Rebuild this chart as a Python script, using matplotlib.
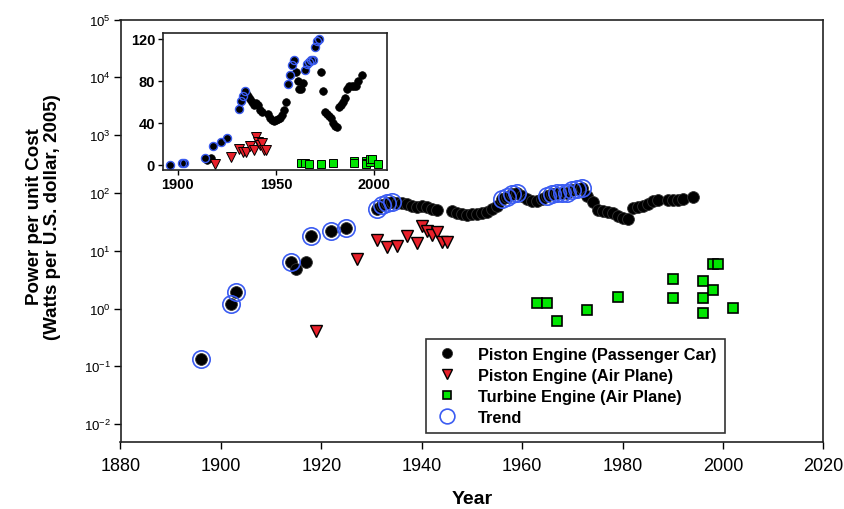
import matplotlib
matplotlib.use("Agg")
import matplotlib.pyplot as plt
from matplotlib.ticker import FixedLocator, NullLocator, LogFormatterMathtext

plt.rcParams['font.family'] = ['Liberation Sans', 'DejaVu Sans']
plt.rcParams['mathtext.fontset'] = 'custom'
plt.rcParams['mathtext.rm'] = 'Liberation Sans'
plt.rcParams['mathtext.it'] = 'Liberation Sans:italic'
plt.rcParams['mathtext.bf'] = 'Liberation Sans:bold'
plt.rcParams['axes.unicode_minus'] = False

# ---- data ----
car_years = [1896, 1902, 1903, 1914, 1915, 1917, 1918, 1922, 1925,
             1931, 1932, 1933, 1934, 1935, 1936, 1937, 1938, 1939, 1940, 1941, 1942, 1943,
             1946, 1947, 1948, 1949, 1950, 1951, 1952, 1953, 1954, 1955,
             1956, 1957, 1958, 1959, 1960, 1961, 1962, 1963, 1964,
             1965, 1966, 1967, 1968, 1969, 1970, 1971, 1972, 1973, 1974,
             1975, 1976, 1977, 1978, 1979, 1980, 1981,
             1982, 1983, 1984, 1985, 1986, 1987, 1989, 1990, 1991, 1992, 1994]
car_vals = [0.133, 1.22, 1.95, 6.3, 4.9, 6.3, 18, 21.7, 25,
            53, 61, 66, 70, 68, 66, 63, 60, 57, 59, 57, 52, 50,
            48, 45, 43, 42, 43, 44, 45, 47, 52, 60,
            77, 86, 95, 100, 88, 80, 72, 72, 78,
            90, 96, 98, 100, 100, 112, 118, 120, 88, 70,
            50, 48, 46, 45, 40, 37, 36,
            55, 57, 60, 64, 72, 75, 75, 75, 75, 80, 86]

trend_years = [1896, 1902, 1903, 1914, 1918, 1922, 1925,
               1931, 1932, 1933, 1934,
               1956, 1957, 1958, 1959,
               1965, 1966, 1967, 1968, 1969, 1970, 1971, 1972]
trend_vals = [0.133, 1.22, 1.95, 6.3, 18, 21.7, 25,
              53, 61, 66, 70,
              77, 86, 95, 100,
              90, 96, 98, 100, 100, 112, 118, 120]

plane_years = [1919, 1927, 1931, 1933, 1935, 1937, 1939, 1940, 1941, 1942, 1943, 1944, 1945]
plane_vals = [0.41, 7.1, 15.2, 11.7, 11.9, 18, 13.7, 26.6, 21.8, 19, 21, 14.3, 14.3]

turbine_years = [1963, 1965, 1967, 1973, 1979, 1990, 1990, 1996, 1996, 1996, 1998, 1998, 1999, 2002]
turbine_vals = [1.27, 1.27, 0.62, 0.935, 1.59, 3.3, 1.49, 3.05, 1.49, 0.85, 2.13, 5.8, 5.8, 1.03]

x_ticks = [1880, 1900, 1920, 1940, 1960, 1980, 2000, 2020]
y_ticks = [1e-2, 1e-1, 1e0, 1e1, 1e2, 1e3, 1e4, 1e5]
inset_x_ticks = [1900, 1950, 2000]
inset_y_ticks = [0, 40, 80, 120]

RED = '#e8202a'
GREEN = '#00e600'
BLUE = '#3b5cf2'

fig = plt.figure(figsize=(8.45, 5.10), dpi=100)
ax = fig.add_axes([120.5/845, 1-442.5/510, 703/845, 422/510])

l_car, = ax.plot(car_years, car_vals, 'o', ms=8.5, mfc='black', mec='#333333', mew=0.6,
                 ls='none', label='Piston Engine (Passenger Car)')
l_trend, = ax.plot(trend_years, trend_vals, 'o', ms=12.5, mfc='none', mec=BLUE, mew=1.2,
                   ls='none', label='Trend')
l_plane, = ax.plot(plane_years, plane_vals, 'v', ms=9, mfc=RED, mec='black', mew=1.0,
                   ls='none', label='Piston Engine (Air Plane)')
l_turb, = ax.plot(turbine_years, turbine_vals, 's', ms=7.5, mfc=GREEN, mec='black', mew=1.2,
                  ls='none', label='Turbine Engine (Air Plane)')

ax.set_yscale('log')
ax.set_xlim(1880, 2020)
ax.set_ylim(0.005, 1e5)
ax.xaxis.set_major_locator(FixedLocator(x_ticks))
ax.yaxis.set_major_locator(FixedLocator(y_ticks))
ax.yaxis.set_minor_locator(NullLocator())
ax.yaxis.set_major_formatter(LogFormatterMathtext())
ax.tick_params(axis='x', direction='out', length=5, width=1.0, labelsize=13, pad=6)
ax.tick_params(axis='y', direction='out', length=5, width=1.0, labelsize=9.5, pad=2)
for s in ax.spines.values():
    s.set_linewidth(1.2)
    s.set_color('#222222')

ax.set_xlabel('Year', fontsize=14, fontweight='bold')
ax.xaxis.set_label_coords(0.5, -0.115)
ax.set_ylabel('Power per unit Cost\n(Watts per U.S. dollar, 2005)', fontsize=13.5,
              fontweight='bold', linespacing=1.05)
ax.yaxis.set_label_coords(-0.085, 0.535)

leg = ax.legend(handles=[l_car, l_plane, l_turb, l_trend], loc='upper left',
                bbox_to_anchor=(0.434, 0.243), frameon=True, fancybox=False,
                prop={'weight': 'bold', 'size': 11.8}, handletextpad=1.1,
                borderpad=0.5, labelspacing=0.36, markerscale=0.85, handlelength=1.6,
                borderaxespad=0.0)
leg.get_frame().set_edgecolor('black')
leg.get_frame().set_linewidth(1.2)

# ---- inset ----
ins = fig.add_axes([162.7/845, 1-170.7/510, (387-162.7)/845, (170.7-34.3)/510])
ins.plot(car_years, car_vals, 'o', ms=5.5, mfc='black', mec='black', mew=0.5, ls='none')
ins.plot(trend_years, trend_vals, 'o', ms=5.8, mfc='none', mec=BLUE, mew=1.0, ls='none')
ins.plot(plane_years, plane_vals, 'v', ms=6.5, mfc=RED, mec='black', mew=0.7, ls='none')
ins.plot(turbine_years, turbine_vals, 's', ms=6, mfc=GREEN, mec='black', mew=0.7, ls='none')
ins.set_xlim(1892.3, 2006.6)
ins.set_ylim(-4.8, 125.4)
ins.xaxis.set_major_locator(FixedLocator(inset_x_ticks))
ins.yaxis.set_major_locator(FixedLocator(inset_y_ticks))
ins.tick_params(direction='out', length=3.5, width=1.0, labelsize=10.5, pad=2)
for lab in ins.get_xticklabels() + ins.get_yticklabels():
    lab.set_fontweight('bold')
for s in ins.spines.values():
    s.set_linewidth(1.2)
    s.set_color('#222222')

fig.savefig('out.png', dpi=100)
